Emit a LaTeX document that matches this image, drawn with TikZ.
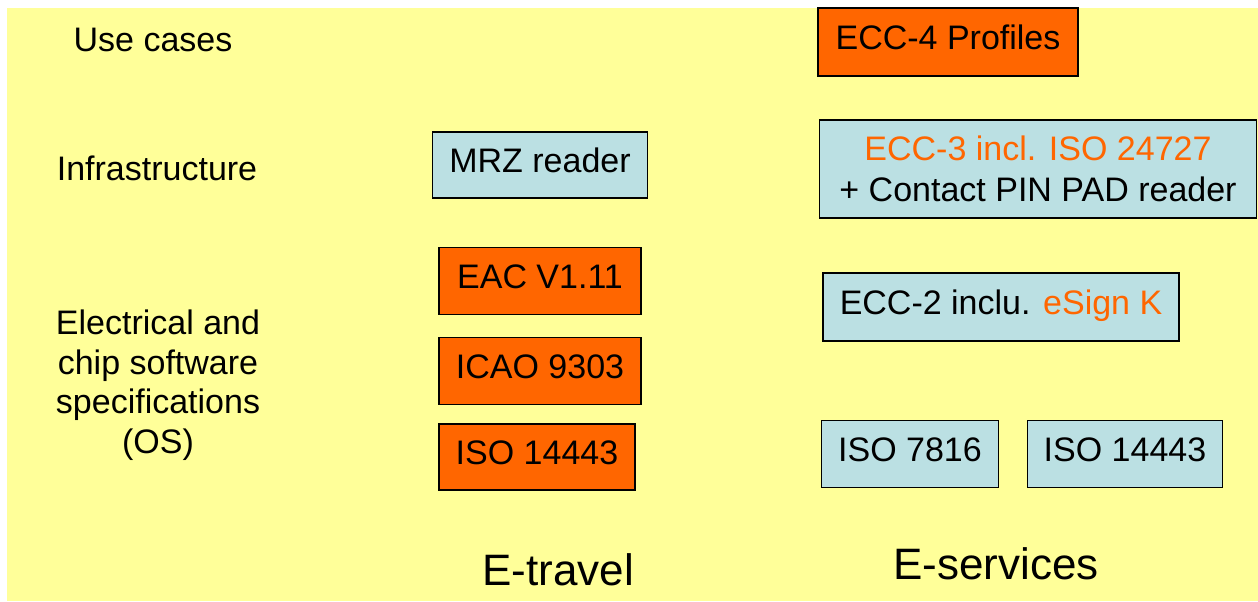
\documentclass[tikz,border=0pt]{standalone}
\usepackage{fontspec}
\setmainfont{Liberation Sans}
\usetikzlibrary{positioning}

\definecolor{bgyellow}{HTML}{FFFF99}
\definecolor{eorange}{HTML}{FF6600}
\definecolor{eblue}{HTML}{BBE0E3}

\begin{document}
\begin{tikzpicture}[x=0.5pt,y=-0.5pt,
  box/.style={draw=black,line width=0.8pt,inner sep=0pt,align=center,
    font=\fontsize{17}{20.5}\selectfont},
  lifted/.style={text height=12.5pt,text depth=5.2pt},
  orange box/.style={box,lifted,fill=eorange},
  blue box/.style={box,lifted,fill=eblue},
  row label/.style={align=center,font=\fontsize{17}{19.8}\selectfont},
  col label/.style={font=\fontsize{22}{26}\selectfont}]
  \useasboundingbox (0,0) rectangle (1258,601);
  \fill[bgyellow] (7,8) rectangle (1258,601);

  % row labels
  \node[row label] (usecases) at (153,40) {Use cases};
  \node[row label] (infra) at (157,168) {Infrastructure};
  \node[row label] (elec) at (158,385) {Electrical and\\chip software\\specifications\\(OS)};

  % E-travel
  \node[blue box, minimum width=107.5pt, minimum height=33pt] (mrz) at (540,165) {MRZ reader};
  \node[orange box, minimum width=101pt, minimum height=33.5pt] (eac) at (540,281) {EAC V1.11};
  \node[orange box, minimum width=101pt, minimum height=33.5pt] (icao) at (540,371) {ICAO 9303};
  \node[orange box, minimum width=98pt, minimum height=33pt] (isoa) at (537,457) {ISO 14443};

  % E-services
  \node[orange box, minimum width=130pt, minimum height=34pt] (ecc4) at (948,42) {ECC-4 Profiles};
  \node[box, fill=eblue, minimum width=218.5pt, minimum height=49pt] (ecc3) at (1038,169)
    {\textcolor{eorange}{ECC-3 incl. ISO 24727}\\+ Contact PIN PAD reader};
  \node[blue box, minimum width=178pt, minimum height=34pt] (ecc2) at (1001,307)
    {ECC-2 inclu. \textcolor{eorange}{eSign K}};
  \node[blue box, minimum width=88.5pt, minimum height=33.5pt] (isob) at (910,454) {ISO 7816};
  \node[blue box, minimum width=97.5pt, minimum height=33.5pt] (isoc) at (1125,454) {ISO 14443};

  % columns
  \node[col label] (etravel) at (558,570) {E-travel};
  \node[col label] (eserv) at (996,564) {E-services};
\end{tikzpicture}
\end{document}
